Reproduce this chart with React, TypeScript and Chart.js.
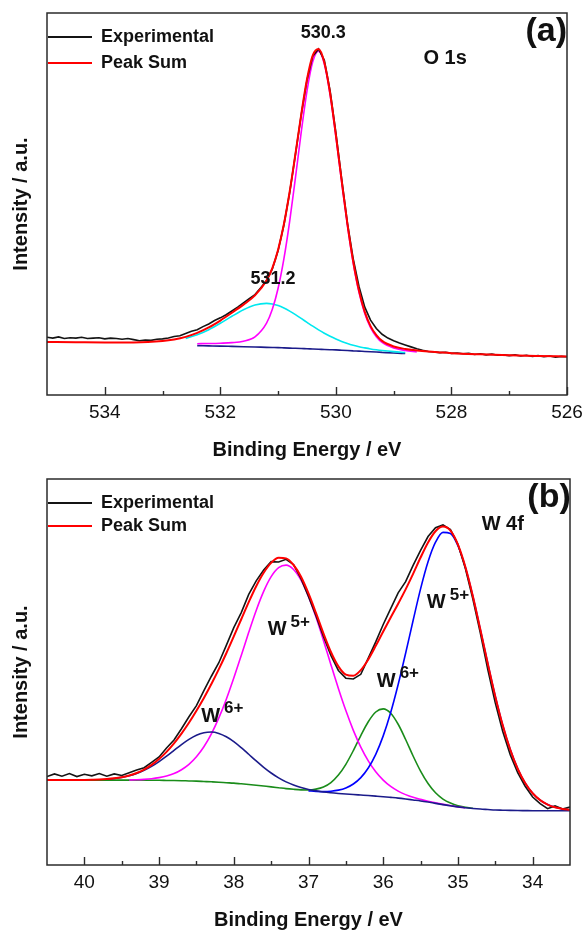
import { useEffect, useRef } from "react";
import { Chart, registerables } from "chart.js";

Chart.register(...registerables);

const FAMILY = '"Liberation Sans", Arial, Helvetica, sans-serif';
const TEXT_COLOR = "#111111";
const AXIS_COLOR = "#2b2b2b";

const X_TITLE = "Binding Energy / eV";
const Y_TITLE = "Intensity / a.u.";

const COLOR_EXP = "#141414";
const COLOR_SUM = "#ff0000";
const COLOR_MAGENTA = "#ff00ff";
const COLOR_CYAN = "#00e8ef";
const COLOR_NAVY = "#1b1b8a";
const COLOR_BLUE = "#0000ff";
const COLOR_GREEN = "#1a8c1a";

// ---------- O 1s panel ----------
const O1S_TICKS = [534, 532, 530, 528, 526];
const O1S_MINOR_TICKS = [533, 531, 529, 527];

const O1S_FIT_EV = [
  535, 534.5, 534, 533.5, 533, 532.8, 532.6, 532.4, 532.2, 532.0,
  531.8, 531.6, 531.4, 531.2, 531.1, 531.0, 530.9, 530.8, 530.7, 530.6,
  530.5, 530.4, 530.3, 530.2, 530.1, 530.0, 529.9, 529.8, 529.7, 529.6,
  529.5, 529.4, 529.3, 529.2, 529.0, 528.8, 528.6, 528.4, 528.2, 528.0,
  527.5, 527.0, 526.5, 526.0,
];

const O1S_PEAK_SUM = [
  13.89, 13.81, 13.74, 13.76, 14.14, 14.54, 15.22, 16.25, 17.68, 19.49,
  21.52, 23.66, 26.07, 29.95, 33.23, 38.05, 44.69, 53.21, 63.11, 73.41,
  82.65, 88.92, 90.57, 87.07, 78.99, 68.02, 56.1, 44.74, 34.95, 27.28,
  21.75, 18.03, 15.67, 14.16, 12.7, 12.05, 11.66, 11.37, 11.15, 10.95,
  10.64, 10.4, 10.23, 10.09,
];

// lattice oxygen component, 530.3 eV
const O1S_PEAK_530 = [
  null, null, null, null, null, null, null, 13.43, 13.48, 13.56,
  13.7, 14.07, 15.22, 18.81, 22.43, 27.94, 35.61, 45.45, 56.87, 68.79,
  79.61, 87.28, 89.98, 86.67, 78.59, 67.62, 55.7, 44.34, 34.55, 26.88,
  21.35, 17.63, 15.27, 13.76, 12.3, 11.65, 11.26, null, null, null,
  null, null, null, null,
];

// surface oxygen component, 531.2 eV
const O1S_PEAK_531 = [
  null, null, null, null, null, null, 14.82, 15.77, 17.1, 18.77,
  20.6, 22.31, 23.56, 23.98, 23.81, 23.4, 22.76, 21.95, 21.03, 20.04,
  19.02, 18.01, 17.05, 16.16, 15.36, 14.65, 14.02, 13.48, 13.02, 12.63,
  12.33, 12.06, 11.84, 11.65, 11.35, 11.13, null, null, null, null,
  null, null, null, null,
];

const O1S_BACKGROUND = [
  null, null, null, null, null, null, null, 12.92, 12.86, 12.8,
  12.72, 12.64, 12.56, 12.48, 12.44, 12.4, 12.34, 12.28, 12.22, 12.16,
  12.1, 12.04, 11.98, 11.92, 11.86, 11.8, 11.72, 11.64, 11.56, 11.48,
  11.4, 11.32, 11.24, 11.16, 11.0, 10.86, null, null, null, null,
  null, null, null, null,
];

const O1S_EXP_EV = [
  535.0, 534.9, 534.8, 534.7, 534.6, 534.5, 534.4, 534.3, 534.2, 534.1,
  534.0, 533.9, 533.8, 533.7, 533.6, 533.5, 533.4, 533.3, 533.2, 533.1,
  533.0, 532.9, 532.8, 532.7, 532.6, 532.5, 532.4, 532.3, 532.2, 532.1,
  532.0, 531.9, 531.8, 531.7, 531.6, 531.5, 531.4, 531.3, 531.2, 531.1,
  531.0, 530.9, 530.8, 530.7, 530.6, 530.5, 530.4, 530.3, 530.2, 530.1,
  530.0, 529.9, 529.8, 529.7, 529.6, 529.5, 529.4, 529.3, 529.2, 529.1,
  529.0, 528.9, 528.8, 528.7, 528.6, 528.5, 528.4, 528.3, 528.2, 528.1,
  528.0, 527.9, 527.8, 527.7, 527.6, 527.5, 527.4, 527.3, 527.2, 527.1,
  527.0, 526.9, 526.8, 526.7, 526.6, 526.5, 526.4, 526.3, 526.2, 526.1,
  526.0,
];

const O1S_EXPERIMENTAL = [
  15.1, 14.9, 15.2, 14.8, 15.0, 14.9, 15.1, 14.8, 14.9, 15.0,
  14.7, 14.9, 14.8, 14.6, 14.8, 14.5, 14.2, 14.4, 14.3, 14.6,
  14.7, 14.9, 15.3, 15.5, 16.1, 16.7, 17.1, 17.9, 18.6, 19.5,
  20.2, 21.0, 22.0, 23.0, 24.1, 25.2, 26.3, 28.1, 30.0, 33.0,
  37.8, 44.5, 53.0, 63.0, 73.3, 82.4, 88.7, 90.6, 87.6, 79.6,
  68.6, 56.6, 45.0, 35.6, 28.4, 23.0, 19.6, 17.4, 15.9, 14.9,
  14.2, 13.6, 13.1, 12.6, 12.1, 11.7, 11.4, 11.3, 11.1, 11.2,
  10.9, 11.0, 10.8, 10.9, 10.6, 10.8, 10.5, 10.7, 10.4, 10.5,
  10.3, 10.5, 10.2, 10.4, 10.1, 10.3, 10.0, 10.2, 9.9, 10.1,
  10.0,
];

// ---------- W 4f panel ----------
const W4F_TICKS = [40, 39, 38, 37, 36, 35, 34];
const W4F_MINOR_TICKS = [39.5, 38.5, 37.5, 36.5, 35.5, 34.5];

const W4F_EV = [
  40.5, 40.4, 40.3, 40.2, 40.1, 40.0, 39.9, 39.8, 39.7, 39.6,
  39.5, 39.4, 39.3, 39.2, 39.1, 39.0, 38.9, 38.8, 38.7, 38.6,
  38.5, 38.4, 38.3, 38.2, 38.1, 38.0, 37.9, 37.8, 37.7, 37.6,
  37.5, 37.4, 37.3, 37.2, 37.1, 37.0, 36.9, 36.8, 36.7, 36.6,
  36.5, 36.4, 36.3, 36.2, 36.1, 36.0, 35.9, 35.8, 35.7, 35.6,
  35.5, 35.4, 35.3, 35.2, 35.1, 35.0, 34.9, 34.8, 34.7, 34.6,
  34.5, 34.4, 34.3, 34.2, 34.1, 34.0, 33.9, 33.8, 33.7, 33.6,
  33.5,
];

const W4F_EXPERIMENTAL = [
  22.9, 23.6, 23.0, 23.7, 22.9, 23.5, 23.1, 23.7, 23.0, 23.6,
  23.2, 23.9, 24.6, 25.2, 26.6, 28.0, 30.3, 32.4, 35.3, 38.4,
  41.3, 45.2, 48.9, 52.4, 56.9, 61.5, 65.4, 70.1, 73.6, 76.4,
  78.6, 78.5, 79.2, 77.8, 74.2, 69.6, 64.6, 59.2, 54.3, 50.4,
  48.4, 48.2, 49.4, 53.6, 57.8, 62.3, 66.4, 70.5, 73.4, 77.6,
  81.5, 85.1, 87.4, 88.1, 86.9, 83.1, 76.8, 68.9, 60.1, 50.6,
  42.0, 34.6, 28.6, 23.9, 20.4, 17.6, 15.9, 14.6, 15.3, 14.5,
  15.0,
];

const W4F_PEAK_SUM = [
  22.0, 22.0, 22.0, 22.01, 22.02, 22.04, 22.08, 22.14, 22.26, 22.45,
  22.74, 23.19, 23.83, 24.73, 25.94, 27.47, 29.32, 31.52, 34.05, 36.85,
  39.95, 43.27, 46.88, 50.74, 54.86, 59.21, 63.67, 68.1, 72.22, 75.71,
  78.28, 79.58, 79.43, 77.72, 74.66, 70.34, 65.3, 60.0, 55.19, 51.47,
  49.33, 49.03, 50.49, 53.25, 56.78, 60.5, 64.12, 67.69, 71.41, 75.42,
  79.65, 83.56, 86.47, 87.67, 86.6, 83.0, 77.21, 69.63, 60.99, 52.13,
  43.67, 36.17, 29.9, 24.94, 21.23, 18.59, 16.8, 15.65, 14.94, 14.53,
  14.29,
];

// W6+ 4f5/2 (navy)
const W6_4F52 = [
  null, null, null, null, null, null, null, null, 22.25, 22.43,
  22.71, 23.13, 23.71, 24.51, 25.54, 26.79, 28.19, 29.71, 31.21, 32.55,
  33.64, 34.28, 34.45, 34.09, 33.23, 31.97, 30.4, 28.69, 26.95, 25.3,
  23.84, 22.57, 21.53, 20.71, 20.07, 19.57, 19.22, 18.92, 18.71, 18.54,
  18.39, 18.25, 18.12, 17.99, 17.85, 17.7, 17.52, 17.33, 17.1, 16.85,
  16.6, 16.3, 15.97, 15.65, 15.35, 15.05, 14.85, 14.65, 14.49, 14.37,
  14.25, 14.2, 14.15, 14.11, 14.09, 14.07, 14.06, 14.06, 14.05, 14.05,
  14.05,
];

// W5+ 4f5/2 (magenta)
const W5_4F52 = [
  null, null, null, null, null, null, null, null, null, null,
  null, 22.04, 22.09, 22.18, 22.35, 22.63, 23.04, 23.69, 24.68, 26.08,
  28.04, 30.63, 33.98, 38.1, 42.95, 48.44, 54.3, 60.27, 65.94, 70.87,
  74.69, 77.03, 77.69, 76.57, 73.79, 69.54, 64.23, 58.19, 51.9, 45.74,
  40.0, 34.89, 30.55, 26.98, 24.16, 22.0, 20.36, 19.14, 18.23, 17.53,
  17.0, 16.52, 16.09, 15.71, 15.38, 15.05, 14.85, null, null, null,
  null, null, null, null, null, null, null, null, null, null,
  null,
];

// W6+ 4f7/2 (green)
const W6_4F72 = [
  22.0, 22.0, 22.0, 22.0, 22.0, 22.0, 22.0, 22.0, 21.99, 21.99,
  21.99, 21.98, 21.97, 21.96, 21.95, 21.95, 21.91, 21.88, 21.84, 21.78,
  21.73, 21.64, 21.55, 21.45, 21.32, 21.2, 21.03, 20.86, 20.67, 20.46,
  20.25, 20.02, 19.79, 19.61, 19.47, 19.43, 19.65, 20.21, 21.36, 23.3,
  26.09, 29.63, 33.54, 37.12, 39.64, 40.45, 39.31, 36.46, 32.52, 28.24,
  24.32, 21.1, 18.7, 17.08, 16.04, 15.35, 14.97, 14.7, null, null,
  null, null, null, null, null, null, null, null, null, null,
  null,
];

// W5+ 4f7/2 (blue)
const W5_4F72 = [
  null, null, null, null, null, null, null, null, null, null,
  null, null, null, null, null, null, null, null, null, null,
  null, null, null, null, null, null, null, null, null, null,
  null, null, null, null, null, 19.19, 19.08, 19.02, 19.11, 19.39,
  19.96, 20.98, 22.64, 25.13, 28.68, 33.45, 39.49, 46.75, 54.86, 63.35,
  71.53, 78.54, 83.62, 86.18, 85.88, 82.7, 77.09, 69.58, 60.99, 52.13,
  43.67, 36.17, 29.9, 24.94, 21.23, 18.59, 16.8, 15.65, 14.94, 14.53,
  14.29,
];

// ---------- shared types ----------
type Series = {
  label: string;
  color: string;
  width: number;
  ev: number[];
  values: (number | null)[];
  smooth: boolean;
};

type TextMark = { text: string; ev: number; y: number; size: number; sup?: string };

type PanelSpec = {
  top: number;
  height: number;
  evMin: number;
  evMax: number;
  padding: { left: number; top: number; right: number; bottom: number };
  series: Series[]; // first entry is painted on top
  majorTicks: number[];
  minorTicks: number[];
  legendRows: number[];
  marks: TextMark[];
};

const LEGEND = [
  { text: "Experimental", color: COLOR_EXP },
  { text: "Peak Sum", color: COLOR_SUM },
];

const PANEL_O1S: PanelSpec = {
  top: 0,
  height: 467,
  evMin: 526,
  evMax: 535,
  padding: { left: 47, top: 13, right: 21, bottom: 72 },
  series: [
    { label: "Peak Sum", color: COLOR_SUM, width: 2, ev: O1S_FIT_EV, values: O1S_PEAK_SUM, smooth: true },
    { label: "Experimental", color: COLOR_EXP, width: 1.6, ev: O1S_EXP_EV, values: O1S_EXPERIMENTAL, smooth: false },
    { label: "530.3", color: COLOR_MAGENTA, width: 1.6, ev: O1S_FIT_EV, values: O1S_PEAK_530, smooth: true },
    { label: "531.2", color: COLOR_CYAN, width: 1.6, ev: O1S_FIT_EV, values: O1S_PEAK_531, smooth: true },
    { label: "Background", color: COLOR_NAVY, width: 1.6, ev: O1S_FIT_EV, values: O1S_BACKGROUND, smooth: true },
  ],
  majorTicks: O1S_TICKS,
  minorTicks: O1S_MINOR_TICKS,
  legendRows: [24, 50],
  marks: [
    { text: "530.3", ev: 530.22, y: 94.8, size: 18 },
    { text: "531.2", ev: 531.09, y: 30.4, size: 18 },
    { text: "O 1s", ev: 528.11, y: 88.2, size: 20 },
    { text: "(a)", ev: 526.36, y: 95.0, size: 34 },
  ],
};

const PANEL_W4F: PanelSpec = {
  top: 467,
  height: 468,
  evMin: 33.5,
  evMax: 40.5,
  padding: { left: 47, top: 12, right: 18, bottom: 70 },
  series: [
    { label: "Peak Sum", color: COLOR_SUM, width: 2, ev: W4F_EV, values: W4F_PEAK_SUM, smooth: true },
    { label: "Experimental", color: COLOR_EXP, width: 1.6, ev: W4F_EV, values: W4F_EXPERIMENTAL, smooth: false },
    { label: "W6+ 4f5/2", color: COLOR_NAVY, width: 1.6, ev: W4F_EV, values: W6_4F52, smooth: true },
    { label: "W5+ 4f7/2", color: COLOR_BLUE, width: 1.6, ev: W4F_EV, values: W5_4F72, smooth: true },
    { label: "W5+ 4f5/2", color: COLOR_MAGENTA, width: 1.6, ev: W4F_EV, values: W5_4F52, smooth: true },
    { label: "W6+ 4f7/2", color: COLOR_GREEN, width: 1.6, ev: W4F_EV, values: W6_4F72, smooth: true },
  ],
  majorTicks: W4F_TICKS,
  minorTicks: W4F_MINOR_TICKS,
  legendRows: [24, 47],
  marks: [
    { text: "(b)", ev: 33.78, y: 95.3, size: 34 },
    { text: "W 4f", ev: 34.4, y: 88.1, size: 20 },
    { text: "W", sup: "5+", ev: 35.29, y: 67.9, size: 20 },
    { text: "W", sup: "5+", ev: 37.42, y: 60.9, size: 20 },
    { text: "W", sup: "6+", ev: 38.31, y: 38.4, size: 20 },
    { text: "W", sup: "6+", ev: 35.96, y: 47.5, size: 20 },
  ],
};

// Frame, inward ticks, axis labels, legend and peak annotations
function makeDecor(spec: PanelSpec) {
  return {
    id: "xpsDecor",
    afterDraw(chart: Chart) {
      const ctx = chart.ctx;
      const a = chart.chartArea;
      const xs = chart.scales.x;
      const ys = chart.scales.y;
      ctx.save();

      ctx.strokeStyle = AXIS_COLOR;
      ctx.lineWidth = 1.5;
      ctx.strokeRect(a.left, a.top, a.right - a.left, a.bottom - a.top);

      ctx.lineWidth = 1.4;
      const tick = (v: number, len: number) => {
        const px = Math.round(xs.getPixelForValue(v)) + 0.5;
        ctx.beginPath();
        ctx.moveTo(px, a.bottom);
        ctx.lineTo(px, a.bottom - len);
        ctx.stroke();
      };
      spec.majorTicks.forEach((v) => tick(v, 8));
      spec.minorTicks.forEach((v) => tick(v, 4));

      ctx.fillStyle = TEXT_COLOR;
      ctx.textAlign = "center";
      ctx.textBaseline = "middle";
      ctx.font = `19px ${FAMILY}`;
      spec.majorTicks.forEach((v) => ctx.fillText(String(v), xs.getPixelForValue(v), a.bottom + 18));

      ctx.font = `bold 20px ${FAMILY}`;
      ctx.fillText(X_TITLE, (a.left + a.right) / 2, a.bottom + 55);
      ctx.save();
      ctx.translate(21, (a.top + a.bottom) / 2);
      ctx.rotate(-Math.PI / 2);
      ctx.fillText(Y_TITLE, 0, 0);
      ctx.restore();

      ctx.textAlign = "left";
      ctx.font = `bold 18px ${FAMILY}`;
      LEGEND.forEach((entry, i) => {
        const y = a.top + spec.legendRows[i];
        ctx.strokeStyle = entry.color;
        ctx.lineWidth = 2.2;
        ctx.beginPath();
        ctx.moveTo(a.left + 1, y);
        ctx.lineTo(a.left + 45, y);
        ctx.stroke();
        ctx.fillText(entry.text, a.left + 54, y);
      });

      spec.marks.forEach((m) => {
        const px = xs.getPixelForValue(m.ev);
        const py = ys.getPixelForValue(m.y);
        ctx.font = `bold ${m.size}px ${FAMILY}`;
        ctx.textAlign = "center";
        ctx.fillText(m.text, px, py);
        if (m.sup) {
          const w = ctx.measureText(m.text).width;
          ctx.font = `bold 17px ${FAMILY}`;
          ctx.textAlign = "left";
          ctx.fillText(m.sup, px + w / 2 + 4, py - 8);
        }
      });

      ctx.restore();
    },
  };
}

function XpsPanel({ spec }: { spec: PanelSpec }) {
  const ref = useRef<HTMLCanvasElement>(null);

  useEffect(() => {
    const canvas = ref.current;
    if (!canvas) return;
    const chart = new Chart(canvas, {
      type: "line",
      data: {
        datasets: spec.series.map((s) => ({
          label: s.label,
          data: s.ev.map((x, i) => ({ x, y: s.values[i] })),
          borderColor: s.color,
          backgroundColor: s.color,
          borderWidth: s.width,
          pointRadius: 0,
          fill: false,
          tension: 0,
          cubicInterpolationMode: s.smooth ? "monotone" : "default",
          spanGaps: false,
        })),
      },
      options: {
        responsive: false,
        devicePixelRatio: 1,
        animation: false,
        events: [],
        layout: { padding: spec.padding },
        plugins: { legend: { display: false }, tooltip: { enabled: false } },
        scales: {
          x: { type: "linear", min: spec.evMin, max: spec.evMax, reverse: true, display: false },
          y: { type: "linear", min: 0, max: 100, display: false },
        },
      },
      plugins: [makeDecor(spec)],
    } as any);
    return () => chart.destroy();
  }, [spec]);

  return (
    <canvas
      ref={ref}
      width={588}
      height={spec.height}
      style={{ position: "absolute", left: 0, top: spec.top, display: "block" }}
    />
  );
}

export default function App() {
  return (
    <div style={{ position: "absolute", left: 0, top: 0, width: 588, height: 935, background: "#ffffff" }}>
      <XpsPanel spec={PANEL_O1S} />
      <XpsPanel spec={PANEL_W4F} />
    </div>
  );
}
